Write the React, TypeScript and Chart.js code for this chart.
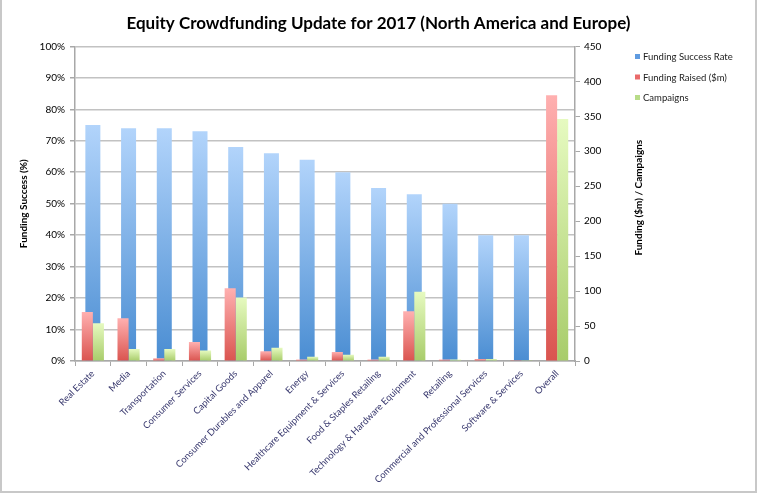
import { useEffect, useRef } from "react";
import { Chart, registerables } from "chart.js";

Chart.register(...registerables);

const chartTitle = "Equity Crowdfunding Update for 2017 (North America and Europe)";
const leftAxisTitle = "Funding Success (%)";
const rightAxisTitle = "Funding ($m) / Campaigns";

const categories = [
  "Real Estate",
  "Media",
  "Transportation",
  "Consumer Services",
  "Capital Goods",
  "Consumer Durables and Apparel",
  "Energy",
  "Healthcare Equipment & Services",
  "Food & Staples Retailing",
  "Technology & Hardware Equipment",
  "Retailing",
  "Commercial and Professional Services",
  "Software & Services",
  "Overall",
];

const seriesNames = ["Funding Success Rate", "Funding Raised ($m)", "Campaigns"];

const successRate: (number | null)[] = [75, 74, 74, 73, 68, 66, 64, 60, 55, 53, 50, 40, 40, null];
const fundingRaised = [70, 61, 4, 27, 104, 14, 2, 13, 2, 71, 2, 3, 1, 380];
const campaigns = [54, 17, 17, 15, 91, 19, 6, 9, 6, 99, 2, 3, 1, 346];

const leftMax = 100;
const leftStep = 10;
const rightMax = 450;
const rightStep = 50;

const FONT = "Lato";
const GRID = "#c2c2c2";
const AXIS = "#a8a8a8";

const gradients = {
  blue: ["#b2d4fb", "#4a8dd2"],
  red: ["#ffb0b0", "#da544f"],
  green: ["#e6fac0", "#a8cc6a"],
};
const legendColors = ["#5f9be0", "#ea6a6a", "#b8dc88"];

function barGradient(top: string, bottom: string, yAxis: string) {
  return (ctx: any) => {
    const chart = ctx.chart;
    const v = ctx.raw;
    if (ctx.type !== "data" || v == null || !chart.chartArea) return bottom;
    const scale = chart.scales[yAxis];
    if (!scale) return bottom;
    const y0 = scale.getPixelForValue(0);
    const y1 = scale.getPixelForValue(v);
    if (!isFinite(y0) || !isFinite(y1) || Math.abs(y0 - y1) < 1) return bottom;
    const g = chart.ctx.createLinearGradient(0, y1, 0, y0);
    g.addColorStop(0, top);
    g.addColorStop(1, bottom);
    return g;
  };
}

const extrasPlugin = {
  id: "extras",
  afterDraw(chart: any) {
    const { ctx, chartArea } = chart;
    ctx.save();
    ctx.font = `bold 10px ${FONT}`;
    ctx.fillStyle = "#000";
    ctx.textAlign = "center";
    ctx.textBaseline = "middle";
    ctx.translate(639, (chartArea.top + chartArea.bottom) / 2 - 6);
    ctx.rotate(-Math.PI / 2);
    ctx.fillText(rightAxisTitle, 0, 0);
    ctx.restore();

    ctx.save();
    ctx.font = `9.5px ${FONT}`;
    ctx.textAlign = "left";
    ctx.textBaseline = "middle";
    chart.data.datasets.forEach((ds: any, i: number) => {
      const cy = 57 + i * 20.5;
      ctx.fillStyle = legendColors[i];
      ctx.fillRect(635, cy - 3, 5, 5);
      ctx.fillStyle = "#222";
      ctx.fillText(ds.label, 643, cy);
    });
    ctx.restore();
  },
};

export default function App() {
  const ref = useRef<HTMLCanvasElement | null>(null);

  useEffect(() => {
    if (!ref.current) return;
    Chart.defaults.font.family = FONT;
    const chart = new Chart(ref.current, {
      type: "bar",
      data: {
        labels: categories,
        datasets: [
          {
            label: seriesNames[0],
            data: successRate,
            yAxisID: "y",
            order: 1,
            grouped: false,
            backgroundColor: barGradient(gradients.blue[0], gradients.blue[1], "y"),
            categoryPercentage: 1,
            barPercentage: 0.42,
          },
          {
            label: seriesNames[1],
            data: fundingRaised,
            yAxisID: "y2",
            order: 0,
            backgroundColor: barGradient(gradients.red[0], gradients.red[1], "y2"),
            categoryPercentage: 0.62,
            barPercentage: 1,
          },
          {
            label: seriesNames[2],
            data: campaigns,
            yAxisID: "y2",
            order: 0,
            backgroundColor: barGradient(gradients.green[0], gradients.green[1], "y2"),
            categoryPercentage: 0.62,
            barPercentage: 1,
          },
        ],
      },
      options: {
        responsive: false,
        animation: false,
        devicePixelRatio: 1,
        layout: { padding: { left: 0, right: 0, top: 0, bottom: 0 } },
        plugins: {
          legend: { display: false },
          tooltip: { enabled: false },
          title: {
            display: true,
            text: chartTitle,
            color: "#000",
            font: { family: FONT, size: 17, weight: "bold" },
            padding: { top: 13, bottom: 13 },
          },
        },
        scales: {
          x: {
            type: "category",
            offset: true,
            grid: {
              display: true,
              offset: true,
              drawOnChartArea: false,
              tickLength: 5,
              color: AXIS,
            },
            border: { display: true, color: AXIS, width: 1.5 },
            ticks: {
              autoSkip: false,
              maxRotation: 45,
              minRotation: 45,
              padding: 2,
              color: "#3b3b70",
              font: { family: FONT, size: 9.4 },
            },
            afterFit: (s: any) => {
              s.height = 493 - 361;
            },
          },
          y: {
            position: "left",
            min: 0,
            max: leftMax,
            ticks: {
              stepSize: leftStep,
              padding: 5,
              color: "#000",
              font: { family: FONT, size: 10 },
              callback: (v: any) => `${v}%`,
            },
            grid: { color: GRID, lineWidth: 1.5, tickLength: 5, tickColor: AXIS },
            border: { display: true, color: AXIS, width: 1.5 },
            title: {
              display: true,
              text: leftAxisTitle,
              color: "#000",
              font: { family: FONT, size: 10, weight: "bold" },
              padding: { top: 18, bottom: 0 },
            },
            afterFit: (s: any) => {
              s.width = 75;
            },
          },
          y2: {
            position: "right",
            min: 0,
            max: rightMax,
            ticks: {
              stepSize: rightStep,
              padding: 4,
              color: "#000",
              font: { family: FONT, size: 10 },
            },
            grid: { drawOnChartArea: false, tickLength: 5, color: AXIS },
            border: { display: true, color: AXIS, width: 1.5 },
            afterFit: (s: any) => {
              s.width = 757 - 575;
            },
          },
        },
      },
      plugins: [extrasPlugin],
    } as any);
    return () => chart.destroy();
  }, []);

  return (
    <div style={{ position: "fixed", left: 0, top: 0, width: 757, height: 493, background: "#fff" }}>
      <canvas ref={ref} width={757} height={493} style={{ display: "block" }} />
      <div
        style={{
          position: "absolute",
          inset: 0,
          boxSizing: "border-box",
          borderLeft: "2px solid #c8c8c8",
          borderRight: "2px solid #c8c8c8",
          borderBottom: "2px solid #c8c8c8",
          pointerEvents: "none",
        }}
      />
    </div>
  );
}
